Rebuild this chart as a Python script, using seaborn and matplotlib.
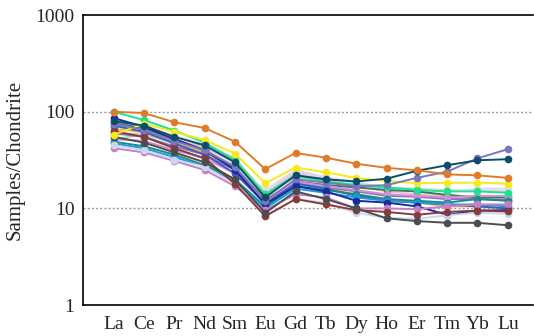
import pandas as pd
import seaborn as sns
import matplotlib.pyplot as plt
from matplotlib.ticker import FixedLocator, NullLocator

elements = ['La', 'Ce', 'Pr', 'Nd', 'Sm', 'Eu', 'Gd', 'Tb', 'Dy', 'Ho', 'Er', 'Tm', 'Yb', 'Lu']

# 各样品球粒陨石标准化值
s_orange = [100, 97, 78, 68, 49, 25.5, 37.5, 33.5, 29, 26.3, 24.8, 22.5, 22, 20.7]
s_navy = [80, 72, 55, 45, 30, 13, 22, 20, 19, 20.3, 24.5, 28, 31.5, 32.3]
s_purple = [75, 65, 50, 40, 27, 12, 20, 18.5, 17, 17.4, 20.7, 24, 33, 41]
s_yellow = [58, 75, 62, 51, 37, 18.2, 26.5, 23.6, 20.7, 19.2, 18.3, 18.4, 18.5, 18]
s_green = [100, 82, 64, 48, 31.6, 14, 22, 19, 17.5, 16.5, 15.5, 15, 15, 14.5]
s_gray = [55, 48, 38, 30, 20, 9, 15, 12.5, 10, 7.9, 7.4, 7.1, 7.1, 6.7]
s_brown = [63, 55, 42, 33, 18, 8.3, 12.5, 11, 9.6, 9.2, 8.6, 9.2, 9.5, 9.3]
s_lightblue = [45, 40, 32, 27, 18, 8.5, 12.5, 11.5, 9, 8, 7.8, 8.5, 9, 8.8]
s_darkblue = [86, 70, 52, 40, 25, 11, 17, 15, 12, 11.5, 10.5, 8.6, 9.5, 9.6]
s_orchid = [42, 38, 31, 25, 17, 9.6, 14, 13, 10, 10, 9.8, 10.5, 11, 11]
s_lavender = [70, 62, 48, 40, 28, 15.5, 25, 21, 18, 16, 15.5, 15, 16, 16]
s_pink = [58, 60, 52, 42, 30, 14.4, 23, 20, 17, 15, 14, 13, 13, 12.5]
s_lightgreen = [52, 58, 48, 45, 33, 14, 21, 19, 17, 16, 15, 13.5, 13, 12]
s_teal = [49, 44, 36, 28, 20, 10.4, 17, 15.5, 14, 12.5, 12, 11.5, 12.5, 12]
s_sky = [47, 42, 34, 27, 19, 10, 16, 14.5, 13, 12, 11.5, 11, 11, 10.5]
s_darkgreen = [76, 68, 52, 40, 26, 12, 19, 17.5, 16.5, 15.5, 15, 13.8, 13, 13]
s_gold = [66, 62, 48, 38, 26, 12.5, 18.5, 16, 14, 12.5, 11.5, 10.5, 10.5, 10]
s_blue = [72, 62, 47, 36, 23, 11.2, 18, 16, 13.5, 12, 11.5, 11, 10.5, 10]
s_violet = [60, 55, 44, 36, 25, 11.7, 18.5, 16.5, 15, 13.5, 13.2, 12.5, 12.5, 12.2]
s_mauve = [52, 50, 40, 33, 23, 12, 19, 17, 15.5, 14, 13.5, 13, 13.5, 13.5]
s_silver = [80, 70, 56, 46, 32, 14.5, 24, 21, 18.5, 16.5, 16, 15.5, 15.5, 15]

series = {
    'silver': (s_silver, '#d4d4d4'),
    'lightgreen': (s_lightgreen, '#a8d8a2'),
    'pink': (s_pink, '#e9c0e0'),
    'lavender': (s_lavender, '#dcdaf2'),
    'gold': (s_gold, '#f2b23a'),
    'darkgreen': (s_darkgreen, '#3d7a5c'),
    'violet': (s_violet, '#8f70c6'),
    'mauve': (s_mauve, '#d48fcf'),
    'blue': (s_blue, '#3a5fc2'),
    'teal': (s_teal, '#1a8a8a'),
    'sky': (s_sky, '#1f9ad6'),
    'darkblue': (s_darkblue, '#1a2b9e'),
    'orchid': (s_orchid, '#c77fc4'),
    'lightblue': (s_lightblue, '#c8d8f2'),
    'brown': (s_brown, '#8b3a3a'),
    'gray': (s_gray, '#4d4d4d'),
    'green': (s_green, '#1de38e'),
    'yellow': (s_yellow, '#f5ea1c'),
    'purple': (s_purple, '#7a77bd'),
    'navy': (s_navy, '#0d4d6b'),
    'orange': (s_orange, '#e07b2a'),
}

frames = []
for name, (vals, c) in series.items():
    frames.append(pd.DataFrame({'x': range(len(elements)), 'value': vals, 'sample': name}))
data = pd.concat(frames, ignore_index=True)
palette = {name: c for name, (vals, c) in series.items()}

sns.set_theme(style="white")
plt.rcParams['font.family'] = ['Liberation Serif', 'DejaVu Serif']

fig = plt.figure(figsize=(5.34, 3.36), dpi=100)
ax = fig.add_axes([0.155, 0.092, 0.843, 0.863])

sns.lineplot(data=data, x='x', y='value', hue='sample', palette=palette,
             marker='o', markersize=5.5, markeredgewidth=0, linewidth=1.4,
             legend=False, sort=False, ax=ax)

ax.set_yscale('log')
ax.set_ylim(1, 1000)
ax.set_xlim(-1.02, 13.83)
ax.yaxis.set_major_locator(FixedLocator([1, 10, 100, 1000]))
ax.yaxis.set_minor_locator(NullLocator())
ax.set_yticklabels(['1', '10', '100', '1000'])
ax.set_xticks(range(len(elements)))
ax.set_xticklabels(elements)

for y in [10, 100]:
    ax.axhline(y, color='#999999', linestyle=(0, (1.5, 1.5)), linewidth=1.0, zorder=0)

ax.spines['right'].set_visible(False)
for side in ['left', 'bottom', 'top']:
    ax.spines[side].set_color('black')
    ax.spines[side].set_linewidth(1.2)

ax.tick_params(axis='x', direction='in', length=4, width=1, color='black', labelsize=14, pad=8)
ax.tick_params(axis='y', length=0, labelsize=14, pad=6)
ax.set_xlabel('')
ax.set_ylabel('Samples/Chondrite', fontsize=15, labelpad=8)

fig.savefig('out.png', dpi=100)
